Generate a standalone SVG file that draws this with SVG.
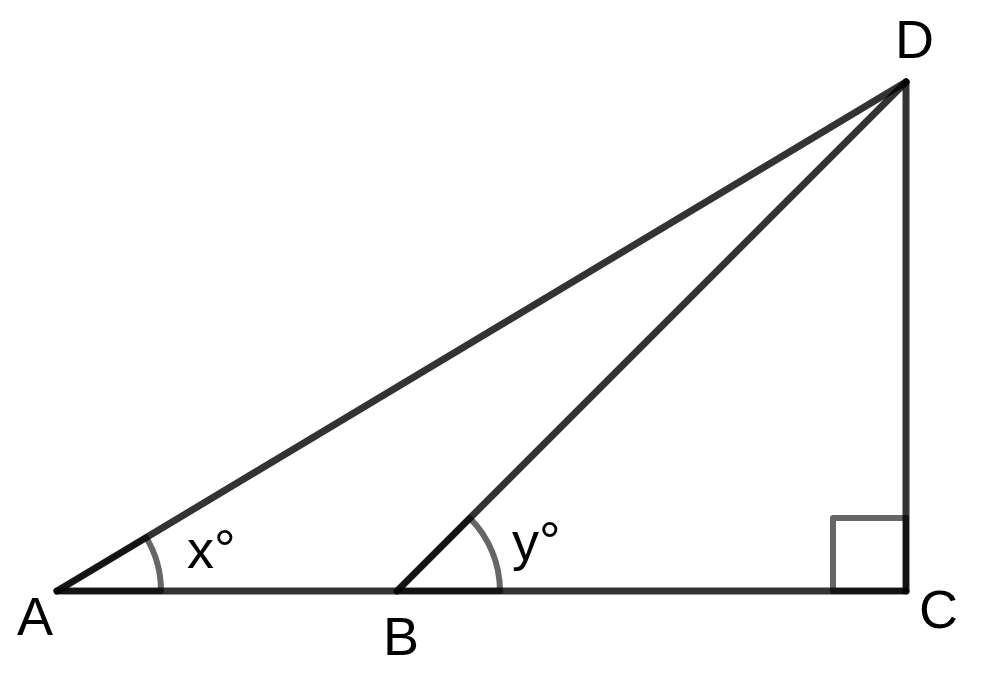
<svg xmlns="http://www.w3.org/2000/svg" width="981" height="680" viewBox="0 0 981 680">
<style>
.seg{stroke:#000;stroke-opacity:0.8;stroke-width:7;fill:none;stroke-linecap:round;stroke-linejoin:round}
.mark{stroke:#000;stroke-opacity:0.6;stroke-width:6;fill:none;stroke-linejoin:round}
.lbl{font-family:"Liberation Sans",Arial,sans-serif;font-size:54px;fill:#000}
</style>
<rect width="981" height="680" fill="#fff"/>
<g id="connectors">
<line class="seg" x1="57" y1="591" x2="906" y2="591"/>
<line class="seg" x1="906" y1="591" x2="906" y2="82"/>
<line class="seg" x1="57" y1="591" x2="906" y2="82"/>
<line class="seg" x1="397" y1="591" x2="906" y2="82"/>
</g>
<g id="angle-x">
<path class="mark" d="M57,591 L161,591 A104,104 0 0 0 146.2,537.5 Z"/>
<text class="lbl" x="187" y="568">x°</text>
</g>
<g id="angle-y">
<path class="mark" d="M397,591 L500,591 A103,103 0 0 0 469.8,518.2 Z"/>
<text class="lbl" x="512" y="560">y°</text>
</g>
<g id="right-angle">
<path class="mark" d="M906,518 L833,518 L833,591 L906,591 Z"/>
</g>
<g id="A"><text class="lbl" x="17" y="635">A</text></g>
<g id="B"><text class="lbl" x="383" y="655">B</text></g>
<g id="C"><text class="lbl" x="919" y="628">C</text></g>
<g id="D"><text class="lbl" x="895" y="58">D</text></g>
</svg>
